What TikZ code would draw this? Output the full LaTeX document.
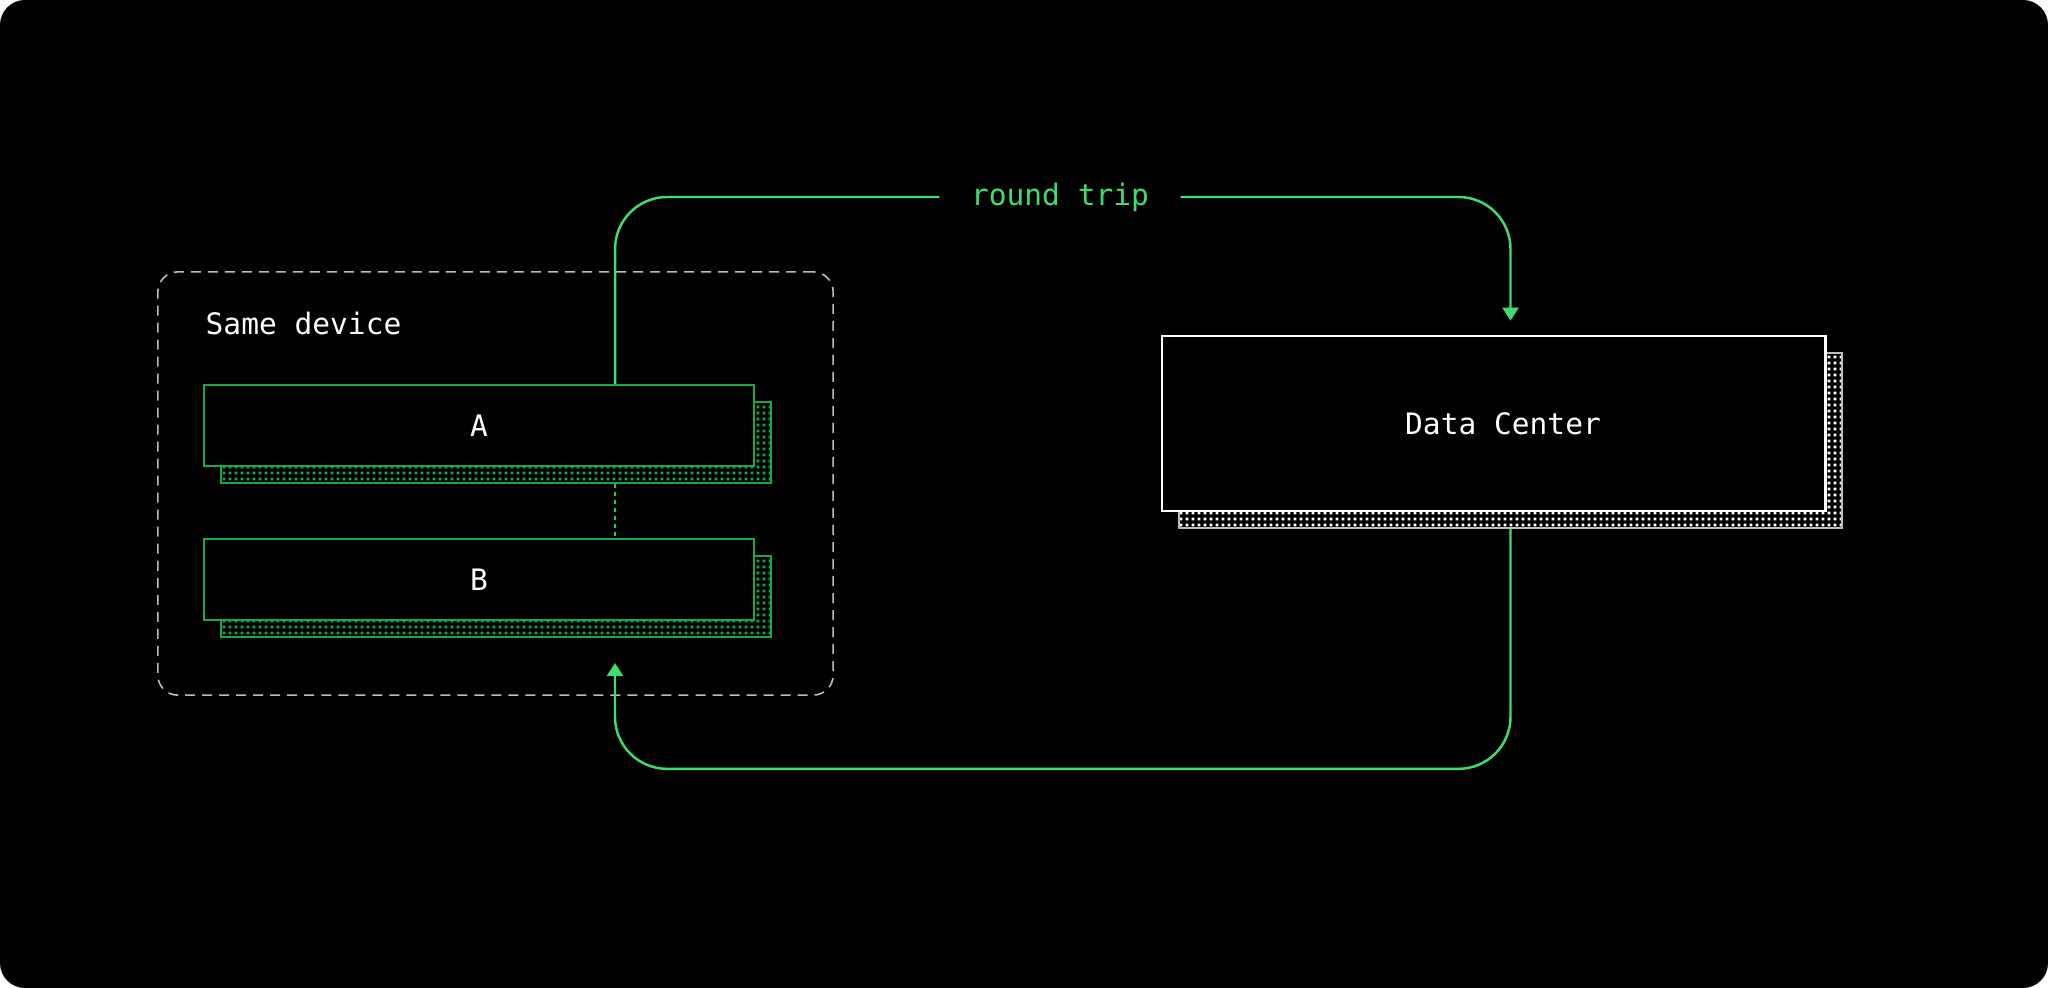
\documentclass[tikz,border=0pt]{standalone}
\usepackage{fontspec}
\setmonofont{DejaVu Sans Mono}
\usetikzlibrary{arrows.meta,patterns.meta}

\definecolor{linegreen}{HTML}{3FDD6D}
\definecolor{boxgreen}{HTML}{19A849}
\definecolor{devgrey}{HTML}{BDBDBD}

\tikzdeclarepattern{
  name=pixdots,
  type=uncolored,
  bottom left={(0pt,0pt)},
  top right={(1.62pt,1.62pt)},
  tile size={(1.62pt,1.62pt)},
  code={\pgfpathrectangle{\pgfpoint{0.2pt}{0.2pt}}{\pgfpoint{0.8pt}{0.8pt}}\pgfusepath{fill}}
}

\begin{document}
\begin{tikzpicture}[x=0.01cm,y=-0.01cm,
    txt/.style={font=\ttfamily\fontsize{8.4}{10}\selectfont},
    gbox/.style={draw=boxgreen,line width=0.45pt,fill=black,minimum width=5.5cm,minimum height=0.81cm,inner sep=0pt,text=white,txt},
    gghost/.style={draw=boxgreen,line width=0.45pt,pattern=pixdots,pattern color=boxgreen,minimum width=5.5cm,minimum height=0.81cm,inner sep=0pt},
    wbox/.style={draw=white,line width=0.75pt,fill=black,minimum width=6.63cm,minimum height=1.75cm,inner sep=0pt},
    wghost/.style={draw=devgrey,line width=0.45pt,pattern=pixdots,pattern color=white,minimum width=6.63cm,minimum height=1.75cm,inner sep=0pt},
    devbox/.style={draw=devgrey,line width=0.45pt,dash pattern=on 0.1cm off 0.07cm,rounded corners=0.2cm,minimum width=6.75cm,minimum height=4.23cm,inner sep=0pt},
    trip/.style={line width=0.7pt,draw=linegreen,rounded corners=0.52cm},
    tip/.style={-{Triangle[width=0.16cm,length=0.13cm]}}]
  \useasboundingbox (0,0) rectangle (2048,988);
  \fill[white] (0,0) rectangle (2048,988);
  \fill[black,rounded corners=0.25cm] (0,0) rectangle (2048,988);

  % same device group
  \node[devbox] (dev) at (495.5,483.5) {};
  \node[txt,text=white,anchor=base west,inner sep=0pt] (devlabel) at (205,334) {Same device};

  \node[gghost] (as) at (496,442.5) {};
  \node[gbox] (a) at (479,425.5) {A};
  \node[gghost] (bs) at (496,596.5) {};
  \node[gbox] (b) at (479,579.5) {B};
  \draw[boxgreen!60!linegreen,line width=0.6pt,dash pattern=on 0.04cm off 0.04cm] ([xshift=1.19cm]as.south) -- ([xshift=1.36cm]b.north);

  % data center
  \node[wghost] (dcs) at (1510.5,440.5) {};
  \node[wbox] (dc) at (1493.5,423.5) {};
  \node[txt,text=white] (dclabel) at ([xshift=0.095cm]dc.center) {Data Center};

  % round trip
  \node[txt,text=linegreen,inner xsep=0.31cm,inner ysep=0pt] (rt) at (1060,197) {round trip};
  \coordinate (dctip) at ([yshift=0.14cm]dc.north -| dcs.north);
  \coordinate (atip) at (615,663);

  \draw[trip] ([xshift=1.36cm]a.north) |- (rt.west);
  \draw[trip,tip] (rt.east) -| (dctip);
  \draw[trip,tip] (dcs.south) -- ++(0,240) -| (atip);
\end{tikzpicture}
\end{document}
